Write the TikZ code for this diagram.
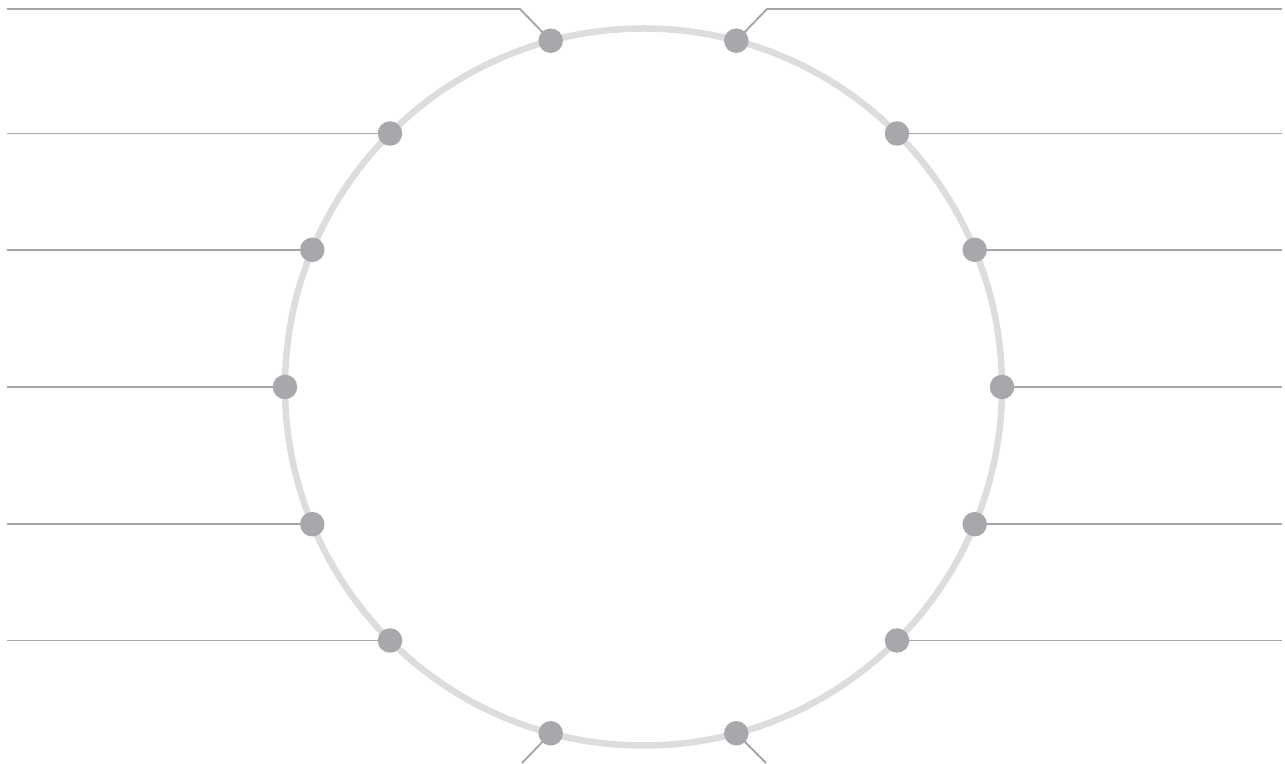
\documentclass[tikz,border=0pt]{standalone}
\usetikzlibrary{backgrounds,calc}
\definecolor{ringgray}{HTML}{DDDDDE}
\definecolor{dotgray}{HTML}{A7A8AB}
\definecolor{linegray}{HTML}{A6A6A6}
\tikzset{
  ring/.style={draw=ringgray, line width=6.5pt},
  dot/.style={circle, fill=dotgray, inner sep=0pt, minimum size=24.5pt},
  leader/.style={draw=linegray, line width=1.9pt},
}
\begin{document}
\begin{tikzpicture}[x=1pt,y=1pt]
\useasboundingbox (0,0) rectangle (1285,763);
\coordinate (c) at (643.5,376);
\coordinate (L) at (7,0);
\coordinate (R) at (1282,0);
\draw[ring] (c) circle[radius=358.5];
\foreach \n/\a in {t1/105,t2/75,a1/135,a2/45,b1/157.5,b2/22.5,m1/180,m2/0,
                   d1/-157.5,d2/-22.5,e1/-135,e2/-45,f1/-105,f2/-75}{
  \node[dot] (\n) at ($(c)+(\a:358.5)$) {};
}
\begin{scope}[on background layer]
  \foreach \n in {a1,b1,m1,d1,e1}{ \draw[leader] (\n.center) -- (\n.center -| L); }
  \foreach \n in {a2,b2,m2,d2,e2}{ \draw[leader] (\n.center) -- (\n.center -| R); }
  \coordinate (tk1) at (520,754);
  \coordinate (tk2) at (767,754);
  \coordinate (bk1) at (522,0);
  \coordinate (bk2) at (766,0);
  \draw[leader] (t1.center) -- (tk1) -- (tk1 -| L);
  \draw[leader] (t2.center) -- (tk2) -- (tk2 -| R);
  \draw[leader] (f1.center) -- (bk1);
  \draw[leader] (f2.center) -- (bk2);
\end{scope}
\end{tikzpicture}
\end{document}
